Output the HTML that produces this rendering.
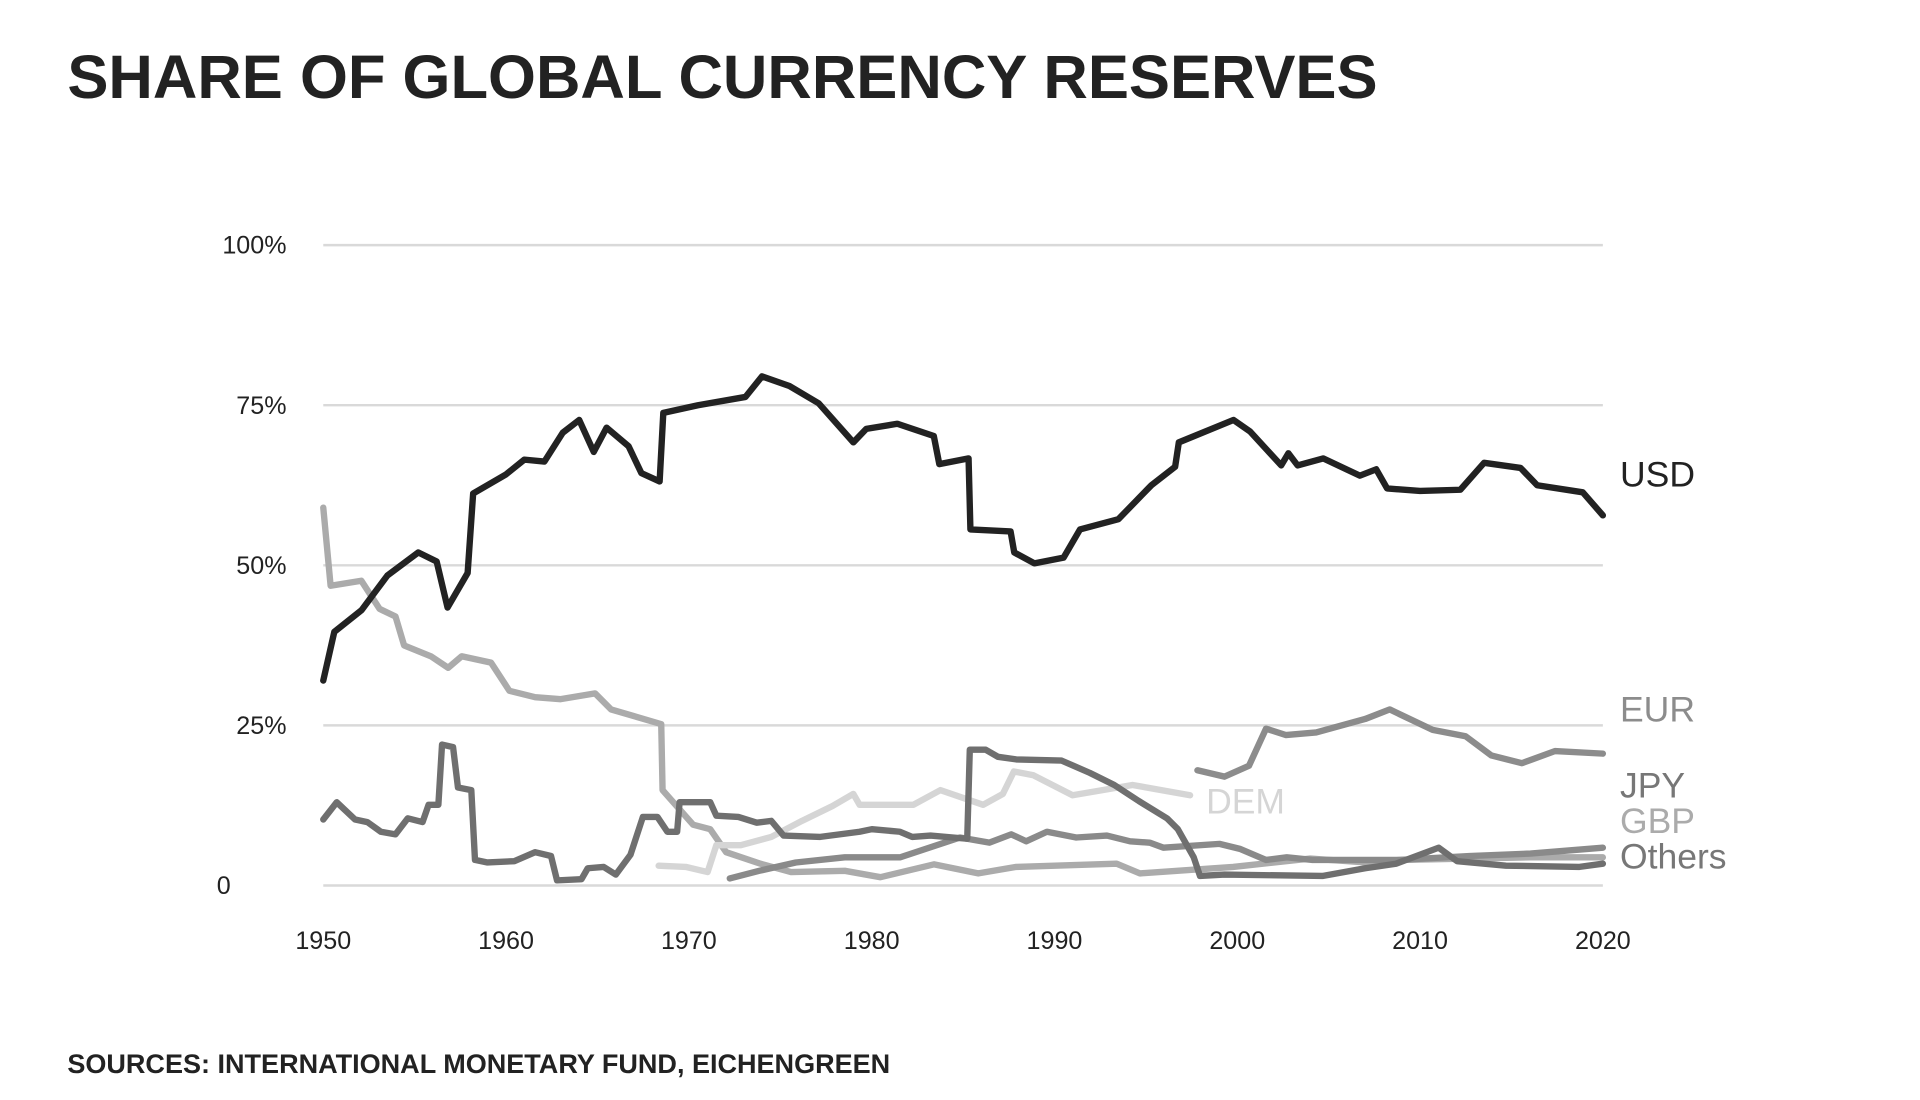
<!DOCTYPE html>
<html><head><meta charset="utf-8"><title>Share of Global Currency Reserves</title>
<style>
html,body{margin:0;padding:0;background:#fff;}
svg{display:block;}
text{font-family:"Liberation Sans",sans-serif;}
</style></head>
<body>
<svg id="chart" width="1920" height="1100" viewBox="0 0 1568 898" xmlns="http://www.w3.org/2000/svg">
<text x="55" y="80" font-size="50" font-weight="bold" fill="#222" textLength="1070" lengthAdjust="spacingAndGlyphs">SHARE OF GLOBAL CURRENCY RESERVES</text>
<text x="55" y="876" font-size="22" font-weight="bold" fill="#222" textLength="672" lengthAdjust="spacingAndGlyphs">SOURCES: INTERNATIONAL MONETARY FUND, EICHENGREEN</text>
<g id="grid"></g>
<g id="yticks"></g>
<g id="xticks"></g>
<g id="series"></g>
<g id="labels"></g>
</svg>
<script>
const yTickValues = [0, 25, 50, 75, 100];
const yTickLabels = ["0", "25%", "50%", "75%", "100%"];
const xTickYears = [1950, 1960, 1970, 1980, 1990, 2000, 2010, 2020];

const usdYears = [1950,1950.6,1952.1,1953.5,1955.2,1956.2,1956.8,1957.9,1958.2,1960,1961,1962.1,1963.1,1964,1964.8,1965.5,1966.7,1967.4,1968.4,1968.6,1970.5,1973.1,1974,1975.5,1977.1,1979,1979.7,1981.4,1983.4,1983.7,1985.3,1985.4,1987.6,1987.8,1988.9,1990.5,1991.4,1993.5,1995.3,1996.6,1996.8,1999.8,2000.7,2002.4,2002.8,2003.3,2004.7,2006.7,2007.6,2008.2,2010,2012.2,2013.5,2015.5,2016.4,2018.9,2020];
const usdValues = [32,39.6,43,48.4,52,50.6,43.4,48.8,61.2,64.2,66.5,66.2,70.7,72.7,67.7,71.5,68.6,64.4,63.1,73.8,75,76.3,79.5,78,75.3,69.2,71.3,72.1,70.2,65.8,66.7,55.6,55.3,52,50.3,51.2,55.6,57.2,62.5,65.4,69.2,72.7,70.9,65.6,67.5,65.6,66.7,64,65,62,61.6,61.8,66,65.2,62.5,61.4,57.8];

const gbpYears = [1950,1950.4,1952.08,1953.08,1953.95,1954.42,1955.89,1956.83,1957.57,1959.18,1960.18,1961.59,1962.99,1964.87,1965.74,1968.49,1968.56,1970.23,1971.17,1972.04,1973.92,1975.59,1978.53,1980.48,1983.42,1985.83,1987.91,1993.4,1994.68,1999.77,2003.99,2007.07,2008.88,2012.69,2016.04,2020];
const gbpValues = [59,46.8,47.6,43.2,42,37.5,35.8,34,35.8,34.8,30.4,29.4,29.1,30,27.5,25.2,14.9,9.5,8.8,5.2,3.4,2.1,2.3,1.3,3.3,1.9,2.9,3.4,1.9,2.9,4.2,3.6,4.0,4.2,4.4,4.4];

const demYears = [1968.35,1969.83,1971.03,1971.5,1972.84,1974.51,1976.19,1977.86,1979.0,1979.34,1982.28,1983.76,1986.1,1987.18,1987.78,1988.85,1990.99,1994.27,1997.42];
const demValues = [3.1,2.9,2.1,6.3,6.3,7.6,10.1,12.4,14.3,12.6,12.6,14.9,12.6,14.3,17.8,17.2,14.1,15.7,14.1];

const jpyYears = [1972.24,1973.85,1975.85,1978.53,1981.55,1984.83,1986.44,1987.64,1988.45,1989.59,1991.19,1992.87,1994.14,1995.21,1995.95,1999.03,2000.17,2001.57,2002.71,2004.12,2008.88,2012.69,2016.04,2020];
const jpyValues = [1.1,2.3,3.6,4.4,4.4,7.5,6.7,8.0,6.9,8.4,7.5,7.8,6.9,6.7,5.9,6.5,5.7,4.0,4.4,4.0,4.0,4.6,5.0,5.9];

const eurYears = [1997.82,1999.3,2000.64,2001.57,2002.65,2004.32,2007.0,2008.34,2010.69,2012.49,2013.9,2015.57,2017.38,2020];
const eurValues = [18,17,18.7,24.5,23.5,23.9,26,27.5,24.3,23.3,20.3,19.1,21,20.6];

const othYears = [1950,1950.74,1951.74,1952.41,1953.15,1953.95,1954.62,1955.43,1955.76,1956.3,1956.5,1957.1,1957.37,1958.1,1958.3,1958.98,1960.45,1961.59,1962.46,1962.79,1964.13,1964.47,1965.34,1966.0,1966.81,1967.48,1968.28,1968.82,1969.36,1969.49,1971.17,1971.5,1972.71,1973.71,1974.51,1975.18,1977.19,1979.34,1980.01,1981.55,1982.22,1983.22,1985.23,1985.37,1986.24,1986.91,1987.91,1990.39,1991.93,1993.27,1994.61,1996.15,1996.75,1997.62,1997.96,1999.3,2004.66,2007.0,2008.68,2011.02,2012.03,2014.7,2018.72,2020];
const othValues = [10.3,13,10.3,9.9,8.4,8.0,10.5,9.9,12.6,12.6,22,21.6,15.3,14.9,4,3.6,3.8,5.2,4.6,0.8,1.0,2.7,2.9,1.7,4.8,10.7,10.7,8.4,8.4,13,13,10.9,10.7,9.8,10.1,7.8,7.6,8.4,8.8,8.4,7.6,7.8,7.3,21.2,21.2,20.1,19.7,19.5,17.6,15.7,13.2,10.5,8.8,4.4,1.5,1.7,1.5,2.7,3.4,5.9,3.8,3.1,2.9,3.4];

const NS = "http://www.w3.org/2000/svg";
const X0 = 264, X1 = 1309, Y0 = 723, Y100 = 200;
function xScale(yr){ return X0 + (yr - 1950) / 70 * (X1 - X0); }
function yScale(v){ return Y0 - v / 100 * (Y0 - Y100); }
function mk(tag, attrs, parent){
  const e = document.createElementNS(NS, tag);
  for (const k in attrs) e.setAttribute(k, attrs[k]);
  parent.appendChild(e);
  return e;
}
const grid = document.getElementById('grid');
const yt = document.getElementById('yticks');
const xt = document.getElementById('xticks');
yTickValues.forEach((v, i) => {
  const l = mk('line', {x1: X0, x2: X1, y1: yScale(v), y2: yScale(v), stroke: '#d9d9d9', 'stroke-width': 2}, grid);
  
  
  const t = mk('text', {x: v === 0 ? 177 : 234, y: yScale(v) + 7, 'font-size': 20.5, fill: '#222', 'text-anchor': v === 0 ? 'start' : 'end'}, yt);
  t.textContent = yTickLabels[i];
  
  
});
xTickYears.forEach(yr => {
  const t = mk('text', {x: xScale(yr), y: 775, 'font-size': 20.5, fill: '#222', 'text-anchor': 'middle'}, xt);
  t.textContent = String(yr);
  
  
});
const series = document.getElementById('series');
function drawLine(years, vals, color, name){
  const d = years.map((y, i) => (i ? 'L' : 'M') + xScale(y).toFixed(1) + ',' + yScale(vals[i]).toFixed(1)).join(' ');
  const p = mk('path', {d: d, fill: 'none', stroke: color, 'stroke-width': 5.2, 'stroke-linejoin': 'round', 'stroke-linecap': 'round'}, series);
  
  
}
drawLine(gbpYears, gbpValues, '#ababab', 'gbp-line');
drawLine(demYears, demValues, '#d5d5d5', 'dem-line');
drawLine(jpyYears, jpyValues, '#8a8a8a', 'jpy-line');
drawLine(eurYears, eurValues, '#8c8c8c', 'eur-line');
drawLine(othYears, othValues, '#6f6f6f', 'others-line');
drawLine(usdYears, usdValues, '#222222', 'usd-line');

const labels = document.getElementById('labels');
function lab(txt, x, y, color, name){
  const t = mk('text', {x: x, y: y, 'font-size': 29, fill: color}, labels);
  t.textContent = txt;
  
  
}
lab('USD', 1323, 397, '#222', 'usd-label');
lab('EUR', 1323, 589, '#8c8c8c', 'eur-label');
lab('JPY', 1323, 651, '#777', 'jpy-label');
lab('GBP', 1323, 680, '#ababab', 'gbp-label');
lab('Others', 1323, 709, '#777', 'others-label');
lab('DEM', 985, 664, '#d5d5d5', 'dem-label');
</script>
</body></html>
